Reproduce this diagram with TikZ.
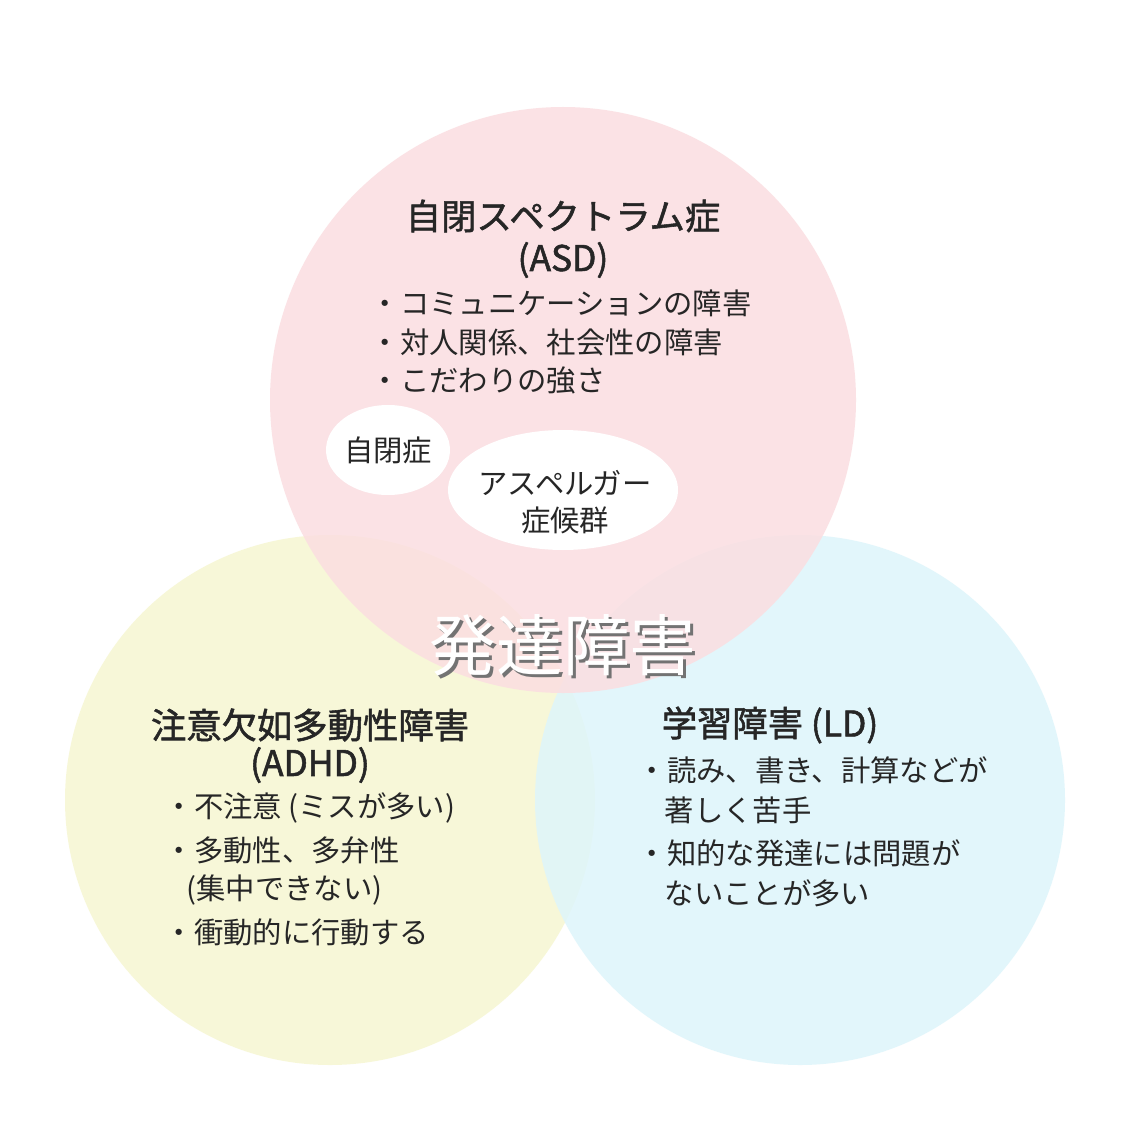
\documentclass[tikz,border=0pt]{standalone}
\usepackage{fontspec}
\setmainfont{Noto Sans CJK JP}
\newfontfamily\jpb{Noto Sans CJK JP}[FakeBold=1.5]
\begin{document}
\begin{tikzpicture}[x=0.75pt,y=-0.75pt,
  circ/.style={fill opacity=0.85},
  ttl/.style={font=\fontsize{26.5}{30}\jpb, text=black!85},
  itm/.style={font=\fontsize{22}{28}\selectfont, text=black!85, anchor=west},
  big/.style={font=\fontsize{50}{52}\selectfont},
]
\useasboundingbox (0,0) rectangle (1125,1141);
\fill[white] (0,0) rectangle (1125,1141);
\fill[circ, fill={rgb,255:red,246;green,246;blue,210}] (330,800) circle (265);
\fill[circ, fill={rgb,255:red,222;green,245;blue,251}] (800,800) circle (265);
\fill[fill={rgb,255:red,251;green,222;blue,225}, fill opacity=0.85] (563,400) circle (293);
% ASD
\node[ttl] (asd1) at (563,216) {自閉スペクトラム症};
\node[ttl] (asd2) at (563,260) {(ASD)};
\node[itm] (a1) at (366,303) {・コミュニケーションの障害};
\node[itm] (a2) at (366,342) {・対人関係、社会性の障害};
\node[itm] (a3) at (366,380) {・こだわりの強さ};
\fill[white] (388,450) ellipse (62 and 45);
\node[itm, anchor=center] (e1) at (388,450) {自閉症};
\fill[white] (563,490) ellipse (115 and 60);
\node[itm, anchor=center, align=center] (e2) at (565,502) {アスペルガー\\症候群};
% ADHD
\node[ttl] (ad1) at (310,725) {注意欠如多動性障害};
\node[ttl] (ad2) at (310,765) {(ADHD)};
\node[itm] (d1) at (160,808) {・不注意 (ミスが多い)};
\node[itm] (d2) at (160,850) {・多動性、多弁性};
\node[itm] (d3) at (182,890) {(集中できない)};
\node[itm] (d4) at (160,932) {・衝動的に行動する};
% LD
\node[ttl] (ld1) at (770,725) {学習障害 (LD)};
\node[itm] (l1) at (633,770) {・読み、書き、計算などが};
\node[itm] (l2) at (660,810) {著しく苦手};
\node[itm] (l3) at (633,853) {・知的な発達には問題が};
\node[itm] (l4) at (660,893) {ないことが多い};
% centre
\node[big, text=black!55] (cs) at (566,648) {発達障害};
\node[big, text=white] (c) at (563,645) {発達障害};
\end{tikzpicture}
\end{document}
